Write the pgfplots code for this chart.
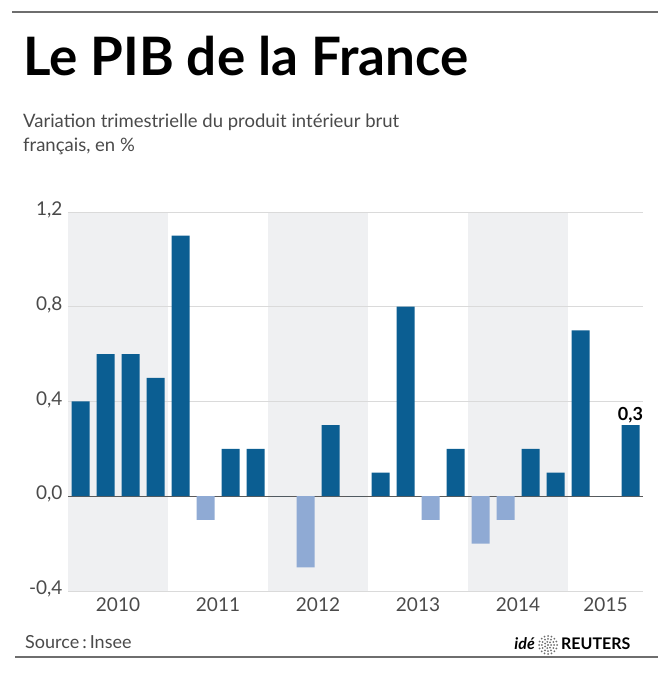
\documentclass[border=0pt]{standalone}
\usepackage{fontspec}
\setmainfont{Lato}
\usepackage{pgfplots}
\pgfplotsset{compat=1.18}

\definecolor{bardark}{HTML}{0B5E92}
\definecolor{barlight}{HTML}{8FAAD4}
\definecolor{band}{HTML}{EFF0F2}
\definecolor{gridc}{HTML}{DADADA}
\definecolor{txt}{HTML}{4A4A4A}
\definecolor{rulec}{HTML}{6E6E6E}
\definecolor{zeroc}{HTML}{5A5A5A}

\begin{document}
\begin{tikzpicture}[x=1pt,y=1pt]
% page frame
\path (0,0) rectangle (658,675);

% frame rules
\draw[rulec, line width=1.6pt] (12,663) -- (658,663);
\draw[rulec, line width=1.6pt] (15,18) -- (658,18);

% title and subtitle
\node[anchor=base west, inner sep=0] at (23,599)
  {\fontsize{53}{53}\selectfont\bfseries Le PIB de la France};
\node[anchor=base west, inner sep=0, text=txt] at (23,547)
  {\fontsize{18.5}{18.5}\selectfont Variation trimestrielle du produit intérieur brut};
\node[anchor=base west, inner sep=0, text=txt] at (23,523)
  {\fontsize{18.5}{18.5}\selectfont français, en \%};

\begin{axis}[
  at={(68pt,84pt)}, anchor=south west,
  scale only axis, width=575pt, height=379pt,
  xmin=-0.5, xmax=22.5, ymin=-0.4, ymax=1.2,
  set layers,
  axis line style={draw=none},
  major tick length=0pt,
  ytick={-0.4,0,0.4,0.8,1.2},
  yticklabels={{-0,4},{0,0},{0,4},{0,8},{1,2}},
  xtick={1.5,5.5,9.5,13.5,17.5,21},
  xticklabels={2010,2011,2012,2013,2014,2015},
  ymajorgrids,
  grid style={gridc, line width=0.8pt},
  yticklabel style={text=txt, font=\fontsize{19}{19}\selectfont, xshift=-2pt, yshift=2pt},
  xticklabel style={text=txt, font=\fontsize{19}{19}\selectfont, yshift=-3pt},
  ybar, bar width=18pt, bar shift=0pt,
  clip=false,
]
% alternating year bands
\begin{pgfonlayer}{axis background}
  \fill[band] (axis cs:-0.5,-0.4) rectangle (axis cs:3.5,1.2);
  \fill[band] (axis cs:7.5,-0.4) rectangle (axis cs:11.5,1.2);
  \fill[band] (axis cs:15.5,-0.4) rectangle (axis cs:19.5,1.2);
\end{pgfonlayer}
\draw[zeroc, line width=0.8pt] (axis cs:-0.5,0) -- (axis cs:22.5,0);

% quarterly growth, 2010 Q1 .. 2015 Q3 (positive and zero quarters)
\addplot[fill=bardark, draw=none] coordinates {
  (0,0.4) (1,0.6) (2,0.6) (3,0.5)
  (4,1.1) (6,0.2) (7,0.2)
  (8,0.0) (10,0.3) (11,0.0)
  (12,0.1) (13,0.8) (15,0.2)
  (18,0.2) (19,0.1)
  (20,0.7) (21,0.0) (22,0.3)
};
% negative quarters
\addplot[fill=barlight, draw=none] coordinates {
  (5,-0.1) (9,-0.3) (14,-0.1) (16,-0.2) (17,-0.1)
};
\node[anchor=south, inner sep=2pt, font=\fontsize{18}{18}\selectfont\bfseries]
  at (axis cs:22,0.3) {0,3};
\end{axis}

% footer
\node[anchor=base west, inner sep=0, text=txt] at (25,27)
  {\fontsize{18}{18}\selectfont Source\,:\,Insee};
\node[anchor=base east, inner sep=0] at (535,25)
  {\fontsize{16}{16}\selectfont\bfseries\itshape idé};
\fill[rulec] (548,30) circle (1.2);
\foreach \r/\n in {3.2/7, 6.2/12, 9.0/16}{
  \foreach \i in {1,...,\n}{
    \fill[rulec] ({548+\r*cos(360*\i/\n)},{30+\r*sin(360*\i/\n)}) circle (1.0);
  }
}
\node[anchor=base west, inner sep=0] at (561,25)
  {\fontsize{16}{16}\selectfont\bfseries REUTERS};
\end{tikzpicture}
\end{document}
